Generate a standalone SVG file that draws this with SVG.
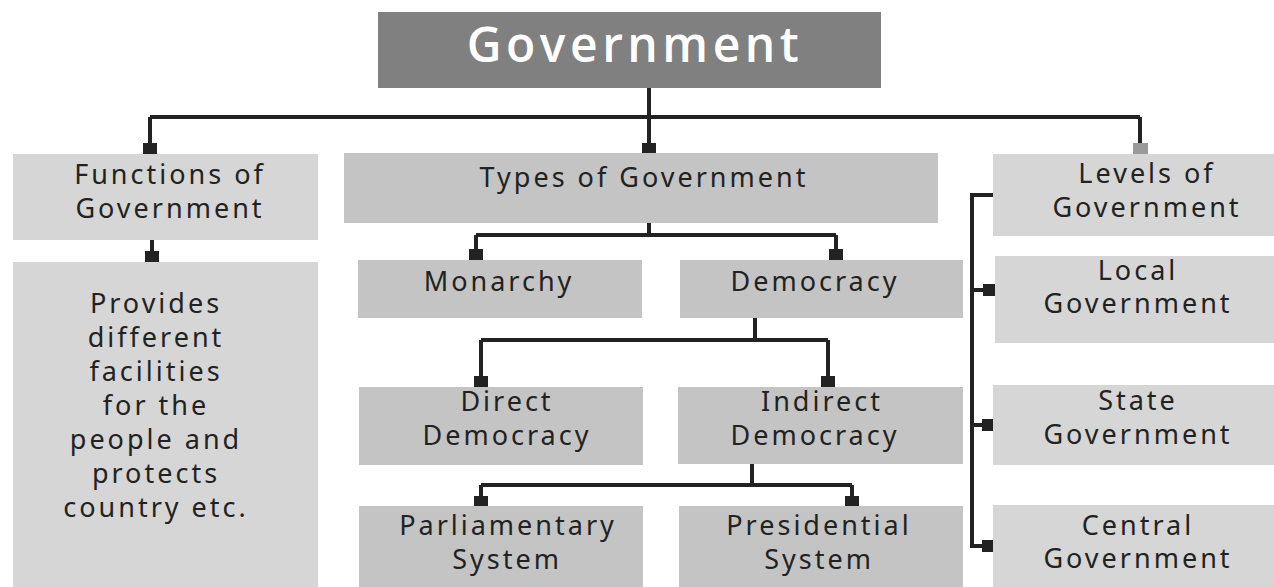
<svg xmlns="http://www.w3.org/2000/svg" width="1274" height="587" viewBox="0 0 1274 587">
<style>
.dark{fill:#c4c4c4}
.light{fill:#d6d6d6}
.t{font-family:"Noto Sans","Open Sans",sans-serif;font-size:27px;fill:#222;text-anchor:middle;letter-spacing:3px}
.title{font-family:"Open Sans","Noto Sans",sans-serif;font-size:48px;font-weight:600;fill:#fff;text-anchor:middle;letter-spacing:4.5px}
.ln{stroke:#222;stroke-width:4;fill:none}
.sq{fill:#222}
</style>
<rect width="1274" height="587" fill="#fff"/>
<g id="connectors">
<path class="ln" d="M649 88V117M150 117H1140M150 117V145M649 117V145M1140 117V145"/>
<rect class="sq" x="143" y="143" width="14" height="11"/>
<rect class="sq" x="642" y="143" width="14" height="11"/>
<rect x="1133" y="143" width="15" height="11" fill="#9a9a9a"/>
<path class="ln" d="M152 240V254"/>
<rect class="sq" x="145" y="251" width="14" height="11"/>
<path class="ln" d="M649 223V235M476 235H836M476 235V252M836 235V252"/>
<rect class="sq" x="469" y="249" width="14" height="11"/>
<rect class="sq" x="829" y="249" width="14" height="11"/>
<path class="ln" d="M755 318V340M481 340H828M481 340V380M828 340V380"/>
<rect class="sq" x="474" y="376" width="14" height="11"/>
<rect class="sq" x="821" y="376" width="14" height="11"/>
<path class="ln" d="M752 464V485M481 485H852M481 485V500M852 485V500"/>
<rect class="sq" x="474" y="496" width="14" height="10"/>
<rect class="sq" x="845" y="496" width="14" height="10"/>
<path class="ln" d="M993 195H972V546H985M972 290H985M972 425H985"/>
<rect class="sq" x="983" y="284" width="12" height="12"/>
<rect class="sq" x="982" y="419" width="12" height="12"/>
<rect class="sq" x="982" y="540" width="12" height="12"/>
</g>
<g id="government">
<rect x="378" y="12" width="503" height="76" fill="#808080"/>
<text class="title" x="635" y="62">Government</text>
</g>
<g id="functions">
<rect class="light" x="13" y="154" width="305" height="86"/>
<text class="t" x="170" y="184">Functions of</text>
<text class="t" x="170" y="218">Government</text>
</g>
<g id="description">
<rect class="light" x="13" y="262" width="305" height="325"/>
<text class="t" x="156" y="313">Provides</text>
<text class="t" x="156" y="347">different</text>
<text class="t" x="156" y="381">facilities</text>
<text class="t" x="156" y="415">for the</text>
<text class="t" x="156" y="449">people and</text>
<text class="t" x="156" y="483">protects</text>
<text class="t" x="156" y="517">country etc.</text>
</g>
<g id="types">
<rect class="dark" x="344" y="153" width="594" height="70"/>
<text class="t" x="644" y="187">Types of Government</text>
</g>
<g id="monarchy">
<rect class="dark" x="358" y="260" width="284" height="58"/>
<text class="t" x="499" y="291">Monarchy</text>
</g>
<g id="democracy">
<rect class="dark" x="680" y="260" width="283" height="58"/>
<text class="t" x="815" y="291">Democracy</text>
</g>
<g id="direct">
<rect class="dark" x="359" y="387" width="284" height="78"/>
<text class="t" x="507" y="411">Direct</text>
<text class="t" x="507" y="445">Democracy</text>
</g>
<g id="indirect">
<rect class="dark" x="678" y="387" width="285" height="77"/>
<text class="t" x="822" y="411">Indirect</text>
<text class="t" x="815" y="445">Democracy</text>
</g>
<g id="parliamentary">
<rect class="dark" x="359" y="506" width="284" height="81"/>
<text class="t" x="508" y="535">Parliamentary</text>
<text class="t" x="507" y="569">System</text>
</g>
<g id="presidential">
<rect class="dark" x="679" y="506" width="284" height="81"/>
<text class="t" x="819" y="535">Presidential</text>
<text class="t" x="819" y="569">System</text>
</g>
<g id="levels">
<rect class="light" x="993" y="154" width="281" height="82"/>
<text class="t" x="1147" y="183">Levels of</text>
<text class="t" x="1147" y="217">Government</text>
</g>
<g id="local">
<rect class="light" x="995" y="256" width="279" height="87"/>
<text class="t" x="1138" y="280">Local</text>
<text class="t" x="1138" y="313">Government</text>
</g>
<g id="state">
<rect class="light" x="993" y="385" width="281" height="80"/>
<text class="t" x="1138" y="410">State</text>
<text class="t" x="1138" y="444">Government</text>
</g>
<g id="central">
<rect class="light" x="993" y="505" width="281" height="82"/>
<text class="t" x="1138" y="535">Central</text>
<text class="t" x="1138" y="568">Government</text>
</g>
</svg>
